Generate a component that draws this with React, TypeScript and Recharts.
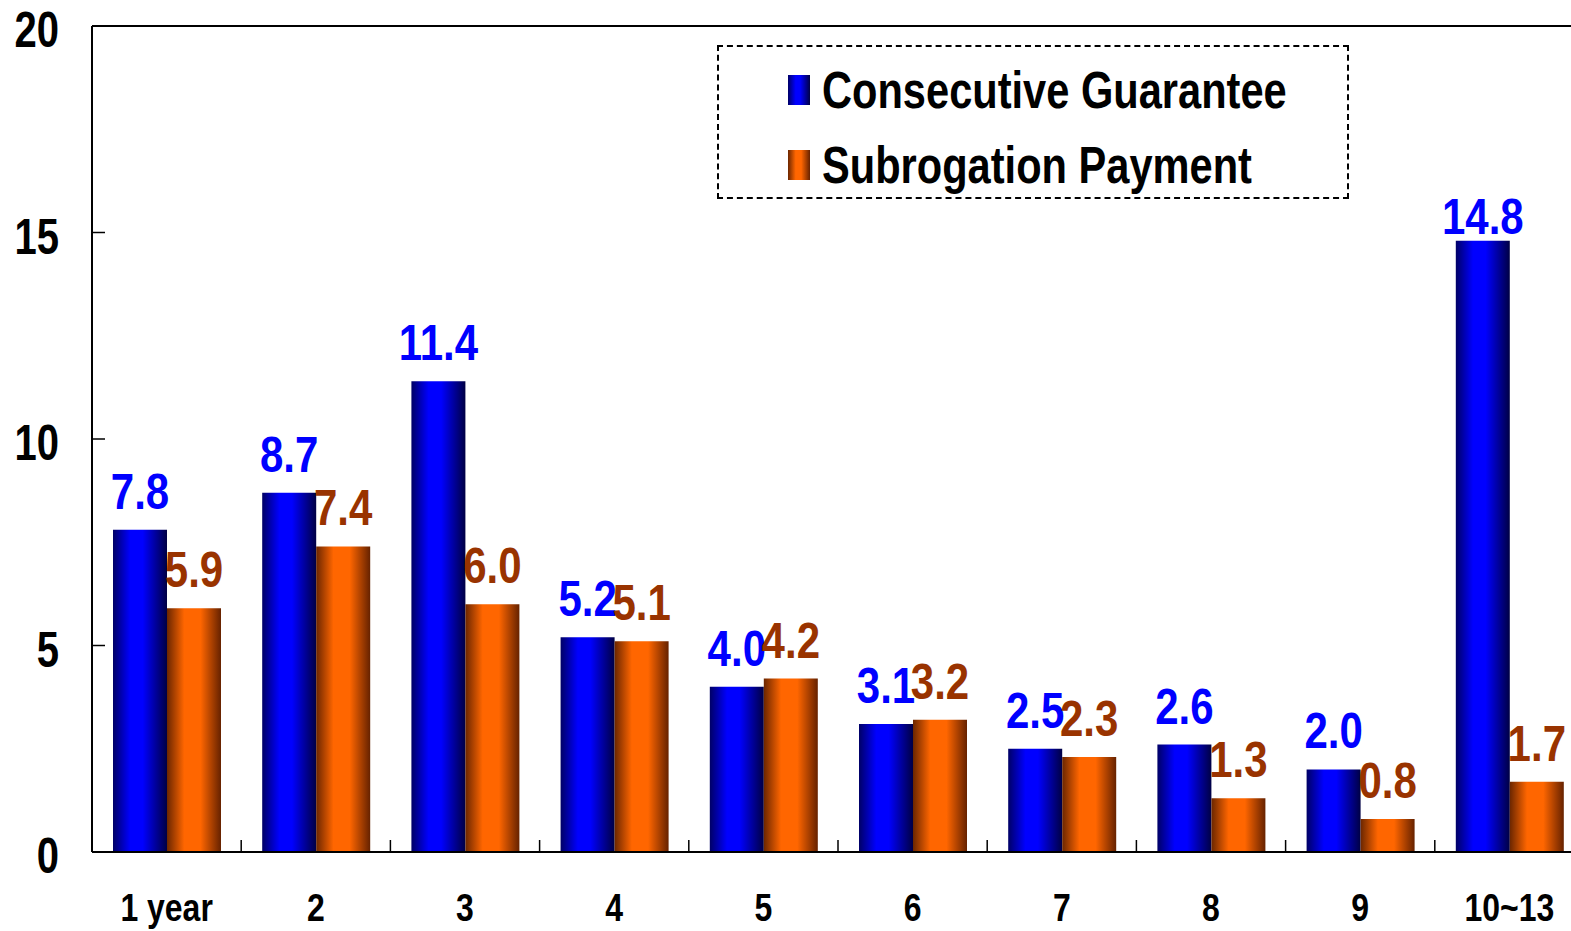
import React from "react";
import {
  BarChart,
  Bar,
  XAxis,
  YAxis,
  LabelList,
  Legend,
  ReferenceLine,
} from "recharts";

const categories = ["1 year", "2", "3", "4", "5", "6", "7", "8", "9", "10~13"];
const consecutive = [7.8, 8.7, 11.4, 5.2, 4.0, 3.1, 2.5, 2.6, 2.0, 14.8];
const subrogation = [5.9, 7.4, 6.0, 5.1, 4.2, 3.2, 2.3, 1.3, 0.8, 1.7];
const yTicks = [0, 5, 10, 15, 20];

const seriesNames = ["Consecutive Guarantee", "Subrogation Payment"];

// no narrow font installed, so squeeze Liberation Sans horizontally
const FONT = "'Liberation Sans', Arial, sans-serif";
const SQUEEZE = 0.8;
const BLUE_LABEL = "#0000ff";
const BROWN_LABEL = "#993300";

const chartData = categories.map((name, i) => ({
  name,
  consecutive: consecutive[i],
  subrogation: subrogation[i],
}));

const CHART_W = 1584;
const CHART_H = 931;
const Y_AXIS_W = 92;

function NarrowText({ x, y, anchor, size, fill, squeeze = SQUEEZE, children }: any) {
  return (
    <g transform={`translate(${x},${y}) scale(${squeeze},1)`}>
      <text
        x={0}
        y={0}
        textAnchor={anchor}
        fontFamily={FONT}
        fontWeight="bold"
        fontSize={size}
        fill={fill}
      >
        {children}
      </text>
    </g>
  );
}

function YTick(props: any) {
  const { x, y, payload } = props;
  return (
    <g>
      {payload.value !== 20 && (
        <line x1={x} x2={x + 13} y1={y} y2={y} stroke="#000" strokeWidth={1.5} />
      )}
      <NarrowText x={x - 33} y={y + 21} anchor="end" size={50} fill="#000">
        {payload.value}
      </NarrowText>
    </g>
  );
}

function XTick(props: any) {
  const { x, y, payload, index } = props;
  const half = payload.offset ?? (CHART_W - Y_AXIS_W) / categories.length / 2;
  return (
    <g>
      {index > 0 && (
        <line x1={x - half} x2={x - half} y1={y} y2={y - 12} stroke="#000" strokeWidth={1.5} />
      )}
      <NarrowText x={x} y={y + 69} anchor="middle" size={39} squeeze={0.82} fill="#000">
        {payload.value}
      </NarrowText>
    </g>
  );
}

function makeLabel(color: string) {
  return (props: any) => {
    const { x, y, width, value } = props;
    // the tallest bar's label sits tucked close to its bar
    const gap = Number(value) > 14 ? 7 : 21;
    return (
      <NarrowText x={x + width / 2} y={y - gap} anchor="middle" size={50} squeeze={0.84} fill={color}>
        {Number(value).toFixed(1)}
      </NarrowText>
    );
  };
}

const swatchBlue =
  "linear-gradient(to right, #000066 0%, #0000ff 35%, #0000ff 55%, #000044 100%)";
const swatchOrange =
  "linear-gradient(to right, #6b2600 0%, #ff6600 35%, #ff6600 60%, #662200 100%)";

function LegendBox() {
  const rows = [
    { name: seriesNames[0], bg: swatchBlue, top: 18 },
    { name: seriesNames[1], bg: swatchOrange, top: 93 },
  ];
  return (
    <div
      style={{
        position: "relative",
        width: 632,
        height: 154,
        boxSizing: "border-box",
        border: "2px dashed #000",
        background: "#fff",
      }}
    >
      {rows.map((r) => (
        <div
          key={r.name}
          style={{
            position: "absolute",
            left: 69,
            top: r.top,
            height: 50,
            display: "flex",
            alignItems: "center",
          }}
        >
          <span
            style={{ display: "inline-block", width: 22, height: 30, background: r.bg, marginRight: 12 }}
          />
          <span
            style={{
              display: "inline-block",
              fontFamily: FONT,
              fontWeight: "bold",
              fontSize: 52,
              lineHeight: "50px",
              color: "#000",
              whiteSpace: "nowrap",
              transform: `scaleX(${SQUEEZE})`,
              transformOrigin: "left center",
            }}
          >
            {r.name}
          </span>
        </div>
      ))}
    </div>
  );
}

export default function App() {
  return (
    <div
      style={{
        position: "absolute",
        left: 0,
        top: 0,
        width: 1571,
        height: CHART_H,
        overflow: "hidden",
        background: "#fff",
      }}
    >
      <BarChart
        width={CHART_W}
        height={CHART_H}
        data={chartData}
        margin={{ top: 26, right: 0, bottom: 0, left: 0 }}
        barCategoryGap={21}
        barGap={0}
      >
        <defs>
          <linearGradient id="gradBlue" x1="0" y1="0" x2="1" y2="0">
            <stop offset="0%" stopColor="#000066" />
            <stop offset="32%" stopColor="#0000ff" />
            <stop offset="55%" stopColor="#0000ff" />
            <stop offset="100%" stopColor="#000044" />
          </linearGradient>
          <linearGradient id="gradOrange" x1="0" y1="0" x2="1" y2="0">
            <stop offset="0%" stopColor="#6b2600" />
            <stop offset="32%" stopColor="#ff6600" />
            <stop offset="62%" stopColor="#ff6600" />
            <stop offset="100%" stopColor="#662200" />
          </linearGradient>
        </defs>
        <XAxis
          dataKey="name"
          height={79}
          axisLine={{ stroke: "#000", strokeWidth: 2 }}
          tickLine={false}
          tickSize={0}
          tickMargin={0}
          interval={0}
          tick={<XTick />}
        />
        <YAxis
          width={Y_AXIS_W}
          domain={[0, 20]}
          ticks={yTicks}
          axisLine={{ stroke: "#000", strokeWidth: 2 }}
          tickLine={false}
          tickSize={0}
          tickMargin={0}
          tick={<YTick />}
        />
        <ReferenceLine y={20} stroke="#000" strokeWidth={2} />
        <Legend
          layout="vertical"
          verticalAlign="middle"
          align="center"
          wrapperStyle={{ left: 717, top: 45, width: 632, height: 154 }}
          content={() => <LegendBox />}
        />
        <Bar dataKey="consecutive" name={seriesNames[0]} fill="url(#gradBlue)" isAnimationActive={false}>
          <LabelList dataKey="consecutive" content={makeLabel(BLUE_LABEL)} />
        </Bar>
        <Bar dataKey="subrogation" name={seriesNames[1]} fill="url(#gradOrange)" isAnimationActive={false}>
          <LabelList dataKey="subrogation" content={makeLabel(BROWN_LABEL)} />
        </Bar>
      </BarChart>
    </div>
  );
}
